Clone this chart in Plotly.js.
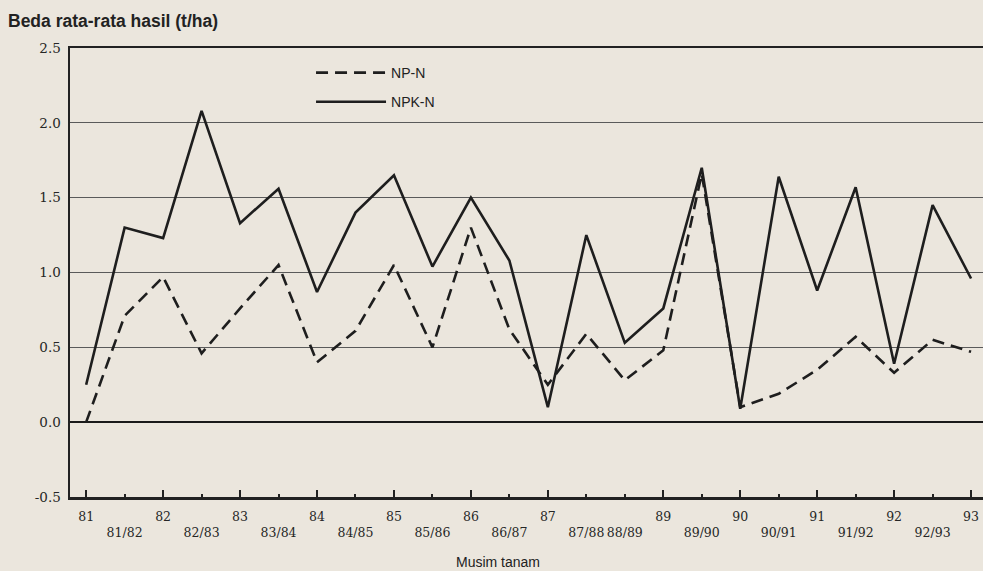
<!DOCTYPE html>
<html>
<head>
<meta charset="utf-8">
<script src="https://cdn.plot.ly/plotly-3.0.1.min.js"></script>
<style>html,body{margin:0;padding:0;background:#ebe6dd;}#chart{width:983px;height:571px;}</style>
</head>
<body>
<div id="chart"></div>
<script>
// Musim tanam (cropping seasons)
const seasons = ["81","81/82","82","82/83","83","83/84","84","84/85","85","85/86","86","86/87","87","87/88","88/89","89","89/90","90","90/91","91","91/92","92","92/93","93"];
// Season labels shown as the main (higher) tick labels
const yearSeasons = ["81","82","83","84","85","86","87","89","90","91","92","93"];
// NP-N yield difference (t/ha)
const npN = [0.00,0.71,0.97,0.46,0.76,1.05,0.40,0.61,1.05,0.50,1.30,0.62,0.25,0.59,0.28,0.48,1.66,0.10,0.19,0.35,0.57,0.33,0.55,0.47];
// NPK-N yield difference (t/ha)
const npkN = [0.25,1.30,1.23,2.08,1.33,1.56,0.87,1.40,1.65,1.04,1.50,1.08,0.10,1.25,0.53,0.76,1.70,0.09,1.64,0.88,1.57,0.39,1.45,0.96];
const yTicks = [-0.5,0.0,0.5,1.0,1.5,2.0,2.5];
const yTickText = ["-0.5","0.0","0.5","1.0","1.5","2.0","2.5"];

const tickText = seasons.map(s => yearSeasons.includes(s) ? s : " <br>" + s);

const traces = [
  {x: seasons, y: npN, name: "NP-N", type: "scatter", mode: "lines", legendgroup: "a",
   line: {color: "#1e1e1e", width: 2.6, dash: "12px,7px"}},
  {x: seasons, y: npkN, name: "NPK-N", type: "scatter", mode: "lines", legendgroup: "b",
   line: {color: "#1e1e1e", width: 2.6}},
  {x: seasons, y: npkN, xaxis: "x2", type: "scatter", mode: "lines", showlegend: false,
   hoverinfo: "skip", line: {color: "rgba(0,0,0,0)", width: 0}}
];

const xTickFont = {family: "DejaVu Serif, Liberation Serif, serif", size: 12.5, color: "#262626"};
const yTickFont = {family: "DejaVu Serif, Liberation Serif, serif", size: 13.5, color: "#262626"};
const sansFont = "Liberation Sans Narrow, Liberation Sans, Arial, sans-serif";

const layout = {
  width: 983, height: 571,
  paper_bgcolor: "#ebe6dd", plot_bgcolor: "#ebe6dd",
  margin: {l: 70, r: 0, t: 48, b: 74},
  title: {text: "<b>Beda rata-rata hasil (t/ha)</b>", x: 8/983, xref: "container", xanchor: "left",
          y: 1 - 21/571, yref: "container", yanchor: "middle",
          font: {family: sansFont, size: 17.5, color: "#222"}},
  showlegend: true,
  legend: {x: 0.264, y: 0.98, xanchor: "left", yanchor: "top", bgcolor: "rgba(0,0,0,0)",
           font: {family: sansFont, size: 14, color: "#222"},
           tracegroupgap: 8, itemwidth: 70},
  xaxis: {type: "category", range: [-0.42, 23.31], tickmode: "array", tickvals: seasons, ticktext: tickText,
          tickangle: 0, automargin: false,
          ticks: "inside", ticklen: 3, tickwidth: 2, tickcolor: "#222",
          showline: true, linewidth: 2.5, linecolor: "#222", mirror: true,
          showgrid: false, zeroline: false, tickfont: xTickFont, ticklabelstandoff: 6, fixedrange: true},
  xaxis2: {type: "category", matches: "x", overlaying: "x", side: "bottom", tickmode: "array", tickvals: yearSeasons,
           showticklabels: false, ticks: "inside", ticklen: 7, tickwidth: 2, tickcolor: "#222",
           showline: false, showgrid: false, zeroline: false},
  yaxis: {range: [-0.5, 2.5], tickmode: "array", tickvals: yTicks, ticktext: yTickText,
          showline: true, linewidth: 2.5, linecolor: "#222", ticks: "",
          showgrid: true, gridcolor: "#5a5a5a", gridwidth: 1,
          zeroline: true, zerolinecolor: "#1a1a1a", zerolinewidth: 2.5,
          tickfont: yTickFont, ticklabelstandoff: 4, fixedrange: true},
  annotations: [
    {text: "Musim tanam", xref: "paper", yref: "paper", x: (498-70)/913, y: (497-562)/449,
     xanchor: "center", yanchor: "middle", showarrow: false,
     font: {family: sansFont, size: 14, color: "#222"}}
  ]
};

Plotly.newPlot("chart", traces, layout, {displayModeBar: false, staticPlot: true});
</script>
</body>
</html>
